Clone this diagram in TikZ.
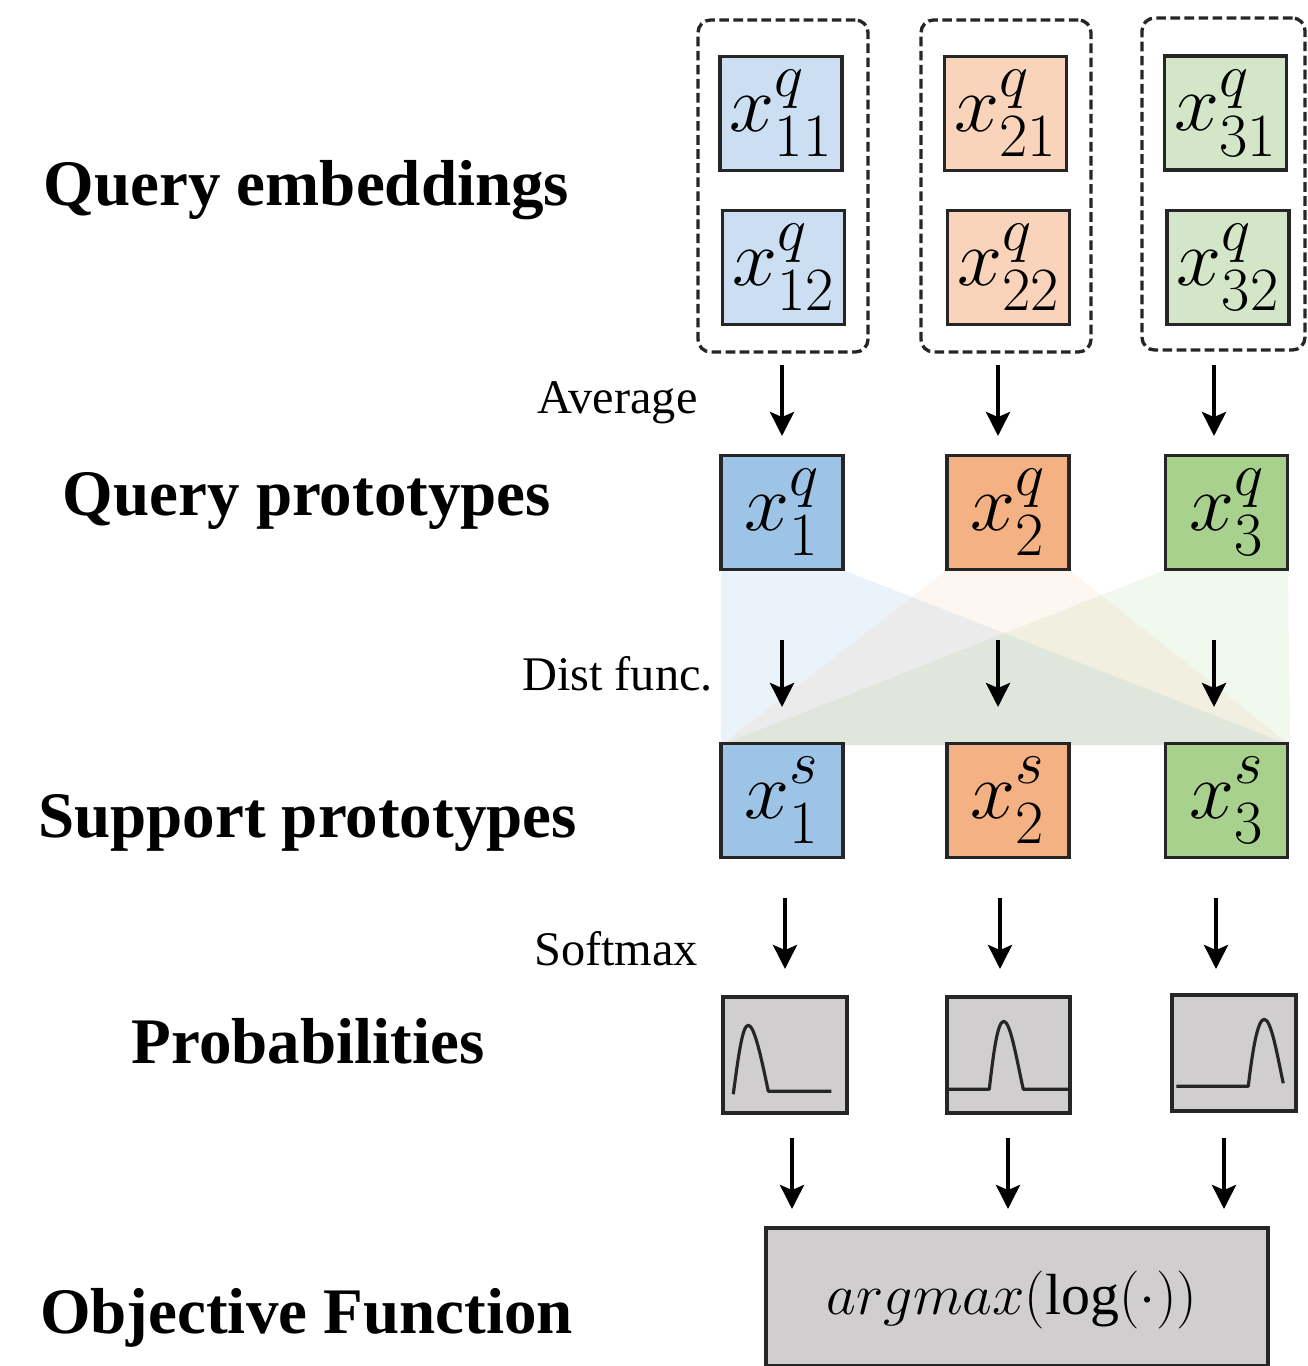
\RequirePackage{fix-cm}
\documentclass[tikz,border=0pt]{standalone}
\usepackage{fontspec}
\setmainfont{Liberation Serif}
\usepackage{graphicx}
\usetikzlibrary{arrows.meta,calc}
\DeclareMathSizes{44}{46}{35}{27}
\newcommand{\vsup}[1]{\raisebox{3pt}{$\scriptstyle #1$}}
\newcommand{\vsub}[1]{\raisebox{-3pt}{$\scriptstyle #1$}}
\definecolor{eblue}{HTML}{CCDEF1}
\definecolor{eorange}{HTML}{F9D4BB}
\definecolor{egreen}{HTML}{D3E7C8}
\definecolor{pblue}{HTML}{9DC3E6}
\definecolor{porange}{HTML}{F4B183}
\definecolor{pgreen}{HTML}{A9D18E}
\definecolor{pgray}{HTML}{D0CECE}
\definecolor{edge}{HTML}{262626}
\begin{document}
\begin{tikzpicture}[x=0.02cm,y=-0.02cm,
  biglabel/.style={font=\fontsize{37}{40}\selectfont\bfseries, anchor=base, inner sep=0},
  smalllabel/.style={font=\fontsize{27.5}{30}\selectfont, anchor=base, inner sep=0},
  vecbox/.style={draw=edge, line width=2pt, minimum width=2.44cm, minimum height=2.28cm, inner sep=0,
     font=\fontsize{44}{48}\selectfont},
  grpbox/.style={draw=edge, line width=1.9pt, dash pattern=on 5.5pt off 2.5pt, rounded corners=0.25cm,
     minimum width=3.4cm, minimum height=6.64cm, inner sep=0},
  probbox/.style={draw=edge, line width=2pt, fill=pgray, minimum width=2.48cm, minimum height=2.32cm, inner sep=0},
  curve/.style={line width=1.8pt, draw=edge, line join=round},
  flow/.style={line width=2.3pt, -{Stealth[length=0.48cm,width=0.48cm,inset=0.1cm]}}]
\useasboundingbox (0,0) rectangle (1308,1366);

% left labels
\node[biglabel] (l1) at (306.5,205) {Query embeddings};
\node[biglabel] (l2) at (307,515) {Query prototypes};
\node[biglabel] (l3) at (307.5,837) {Support prototypes};
\node[biglabel] (l4) at (308,1063) {Probabilities};
\node[biglabel] (l5) at (306.5,1333) {Objective Function};

\node[smalllabel] (s1) at (617.5,413) {Average};
\node[smalllabel] (s2) at (617.5,690) {Dist func.};
\node[smalllabel] (s3) at (616,965) {Softmax};

% distance shading
\fill[pblue,fill opacity=0.2] (721,570) -- (843,570) -- (1290,745) -- (721,745) -- cycle;
\fill[porange,fill opacity=0.12] (947,570) -- (1069,570) -- (1290,745) -- (721,745) -- cycle;
\fill[pgreen,fill opacity=0.16] (1165,570) -- (1288,570) -- (1290,745) -- (721,745) -- cycle;

% group boxes
\node[grpbox] (g1) at (783,186) {};
\node[grpbox] (g2) at (1006,186) {};
\node[grpbox, minimum width=3.26cm] (g3) at (1223.5,184) {};

% embeddings
\node[vecbox, fill=eblue] (e11) at (781,113.5) {$x^{\vsup{q}}_{\vsub{11}}$};
\node[vecbox, fill=eblue] (e12) at (783.5,267.5) {$x^{\vsup{q}}_{\vsub{12}}$};
\node[vecbox, fill=eorange] (e21) at (1005.5,113.5) {$x^{\vsup{q}}_{\vsub{21}}$};
\node[vecbox, fill=eorange] (e22) at (1008.5,267.5) {$x^{\vsup{q}}_{\vsub{22}}$};
\node[vecbox, fill=egreen] (e31) at (1225.5,113) {$x^{\vsup{q}}_{\vsub{31}}$};
\node[vecbox, fill=egreen] (e32) at (1228,267.5) {$x^{\vsup{q}}_{\vsub{32}}$};

% query prototypes
\node[vecbox, fill=pblue] (q1) at (782,512.5) {$x^{\vsup{q}}_{\vsub{1}}$};
\node[vecbox, fill=porange] (q2) at (1008,512.5) {$x^{\vsup{q}}_{\vsub{2}}$};
\node[vecbox, fill=pgreen] (q3) at (1226.5,512.5) {$x^{\vsup{q}}_{\vsub{3}}$};

% support prototypes
\node[vecbox, fill=pblue] (sp1) at (782,800.5) {$x^{\vsup{s}}_{\vsub{1}}$};
\node[vecbox, fill=porange] (sp2) at (1008,800.5) {$x^{\vsup{s}}_{\vsub{2}}$};
\node[vecbox, fill=pgreen] (sp3) at (1226.5,800.5) {$x^{\vsup{s}}_{\vsub{3}}$};

% probabilities
\node[probbox] (pr1) at (785,1055) {};
\node[probbox, minimum width=2.46cm] (pr2) at (1008.5,1055) {};
\node[probbox] (pr3) at (1234,1053) {};
\begin{scope}[shift={(pr1.north west)}]
  \draw[curve] (12,99) .. controls (17,62) and (21,30) .. (27,30) .. controls (33,30) and (40,62) .. (47,96) -- (110,96);
\end{scope}
\begin{scope}[shift={(pr2.north west)}]
  \draw[curve] (0,94) -- (44,94) .. controls (48,60) and (52,26) .. (58.5,26) .. controls (65,26) and (71,62) .. (78,94) -- (123,94);
\end{scope}
\begin{scope}[shift={(pr3.north west)}]
  \draw[curve] (6,93) -- (78,93) .. controls (82,60) and (87,26) .. (94,26) .. controls (101,26) and (107,62) .. (113,90);
\end{scope}

% objective
\node[probbox, minimum width=10.04cm, minimum height=2.76cm] (obj) at (1017,1297) {};
\node[font=\fontsize{33}{36}\selectfont, inner sep=0] (objt) at (1012,1300) {$argmax(\log(\cdot))$};

% arrows
\foreach \i/\xa/\xb/\xc/\xd in {1/782/782/785/792, 2/998/998/1000/1008, 3/1214/1214/1216/1224}{
  \coordinate (a\i s) at (\xa,365); \coordinate (a\i e) at (\xa,436);
  \coordinate (d\i s) at (\xb,640); \coordinate (d\i e) at (\xb,707);
  \coordinate (m\i s) at (\xc,898); \coordinate (m\i e) at (\xc,969);
  \coordinate (o\i s) at (\xd,1138); \coordinate (o\i e) at (\xd,1209);
  \draw[flow] (a\i s) -- (a\i e);
  \draw[flow] (d\i s) -- (d\i e);
  \draw[flow] (m\i s) -- (m\i e);
  \draw[flow] (o\i s) -- (o\i e);
}
\end{tikzpicture}
\end{document}
